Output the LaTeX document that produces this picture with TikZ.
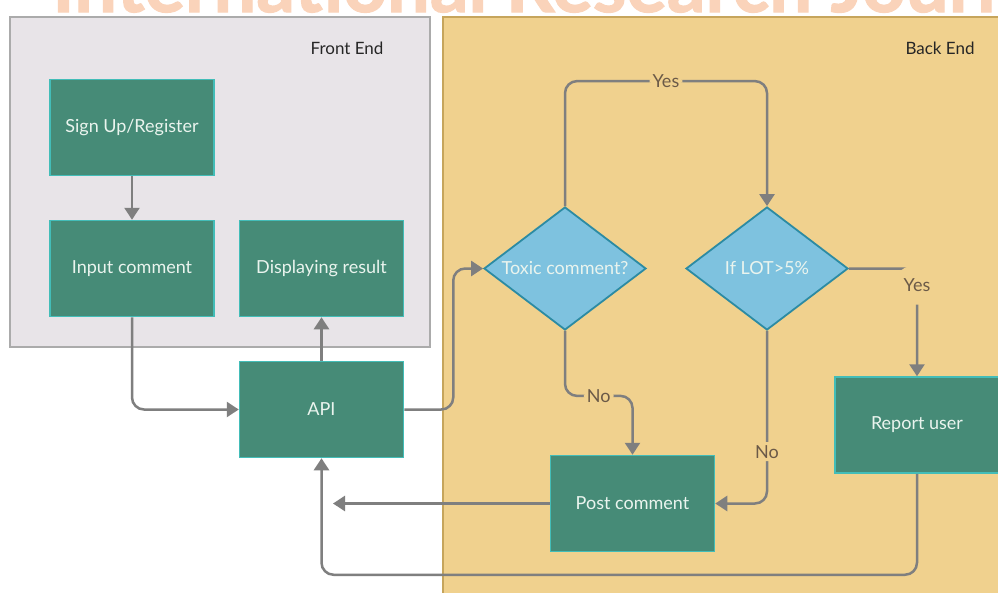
\documentclass[tikz,border=0pt]{standalone}
\usepackage{fontspec}
\setmainfont{Lato}
\newfontfamily\wmfont{Lato}[FakeBold=1.5]
\usetikzlibrary{shapes.geometric,arrows.meta}
\definecolor{frontfill}{HTML}{E8E4E8}
\definecolor{frontline}{HTML}{ABABAB}
\definecolor{backfill}{HTML}{F0D18E}
\definecolor{backline}{HTML}{C6A55C}
\definecolor{boxfill}{HTML}{468B77}
\definecolor{boxline}{HTML}{43BDB8}
\definecolor{boxtext}{HTML}{EAF4EE}
\definecolor{diafill}{HTML}{7EC2DF}
\definecolor{dialine}{HTML}{2C8BA3}
\definecolor{conncol}{HTML}{7F7F7F}
\definecolor{lblcol}{HTML}{6B5A48}
\definecolor{wmark}{HTML}{FAD3BA}
\begin{document}
\begin{tikzpicture}[x=1pt,y=-1pt,
  every node/.style={font=\fontsize{18}{21}\selectfont},
  procbox/.style={draw=boxline, line width=1.5pt, fill=boxfill, text=boxtext,
    minimum width=164pt, minimum height=96pt, inner sep=0pt},
  decbox/.style={diamond, aspect=1.317, draw=dialine, line width=1.8pt, fill=diafill, text=boxtext,
    minimum width=162pt, minimum height=123pt, inner sep=0pt},
  conn/.style={draw=conncol, line width=2.5pt, rounded corners=12pt,
    -{Triangle[length=12pt,width=15pt]}},
  lbl/.style={fill=backfill, text=lblcol, inner sep=3pt},
  paneltitle/.style={text=black!85, font=\fontsize{17}{20}\selectfont}
]
\useasboundingbox (0,0) rectangle (998,592);
\fill[white] (0,0) rectangle (998,592);
% watermark, cut off at the top
\begin{scope}
  \clip (0,0) rectangle (998,592);
  \node[anchor=base west, inner sep=0pt, text=wmark,
        font=\wmfont\bfseries\fontsize{76}{80}\selectfont] (wm) at (52,12)
        {International Research Journal};
\end{scope}
% panels
\draw[fill=frontfill, draw=frontline, line width=2pt] (10,17) rectangle (430,347);
\draw[fill=backfill, draw=backline, line width=2pt] (443,17) rectangle (1010,605);
\node[paneltitle] (fe) at (347,48) {Front End};
\node[paneltitle] (be) at (940,48) {Back End};
% nodes
\node[procbox] (sign) at (132,127.5) {Sign Up/Register};
\node[procbox] (input) at (132,268.5) {Input comment};
\node[procbox] (disp) at (321.5,268.5) {Displaying result};
\node[procbox] (api) at (321.5,409.5) {API};
\node[decbox] (tox) at (565,268.5) {Toxic comment?};
\node[decbox] (lot) at (767,268.5) {If LOT>5\%};
\node[procbox] (post) at (632.5,503.5) {Post comment};
\node[procbox] (report) at (917,425) {Report user};
\coordinate (postend) at (333,503.5);
% connectors
\draw[conn] (sign) -- (input);
\draw[conn] (input.south) |- (api.west);
\draw[conn] (api.north) -- (disp.south);
\draw[conn] (api.east) -- ++(49,0) |- (tox.west);
\draw[conn] (tox.north) -- ++(0,-125) -| (lot.north)
  node[lbl, pos=0.25] (yes1) {Yes};
\draw[conn] (lot.east) -| (report.north)
  node[lbl, pos=0.5, yshift=-17pt, minimum width=38pt, minimum height=38pt] (yes2) {Yes};
\draw[conn] (tox.south) -- ++(0,65) -| (post.north)
  node[lbl, pos=0.25] (no1) {No};
\draw[conn] (lot.south) |- (post.east)
  node[lbl, pos=0.35] (no2) {No};
\draw[conn] (post.west) -- (postend);
\draw[conn] (report.south) -- ++(0,101) -| (api.south);
\end{tikzpicture}
\end{document}
